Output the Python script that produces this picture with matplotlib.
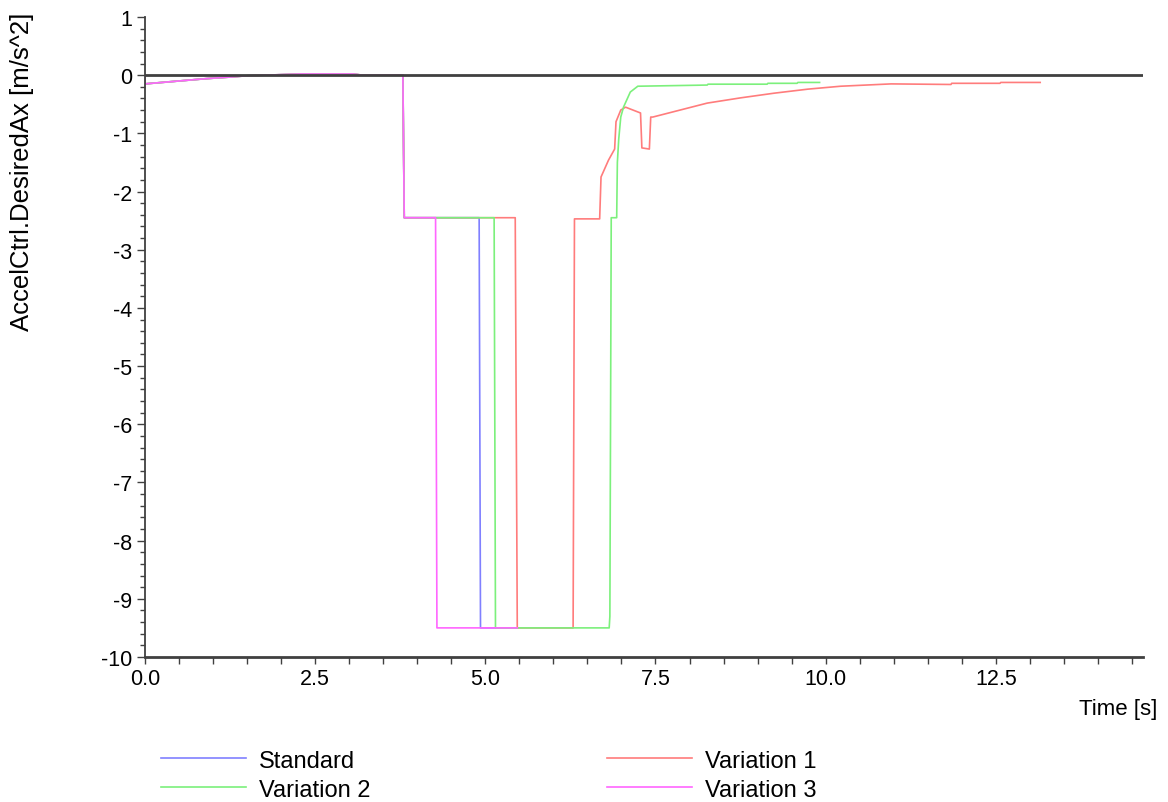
import matplotlib
matplotlib.use("Agg")
from matplotlib import pyplot as plt
from matplotlib.ticker import MultipleLocator, FormatStrFormatter

plt.rcParams['font.family'] = ['Liberation Sans', 'DejaVu Sans']
plt.rcParams['axes.unicode_minus'] = False

# shared start of every run (all hidden under Variation 3 up to ~3.8 s)
start_t = [0.0, 0.0, 0.3, 0.6, 0.9, 1.28, 1.5, 2.3, 3.05, 3.2, 3.79, 3.81]
start_y = [0.0, -0.15, -0.12, -0.09, -0.06, -0.03, -0.01, 0.02, 0.02, 0.0, 0.0, -2.45]

# Standard
std_t = start_t + [4.91, 4.93, 5.47]
std_y = start_y + [-2.45, -9.5, -9.5]

# Variation 1
v1_t = start_t + [5.44, 5.47, 6.29, 6.31, 6.68, 6.70, 6.81, 6.90, 6.92, 6.99, 7.06,
                  7.28, 7.30, 7.41, 7.43, 7.46, 7.76, 8.26, 8.75, 9.24, 9.74, 10.22,
                  10.96, 11.84, 11.85, 12.56, 12.57, 13.15]
v1_y = start_y + [-2.45, -9.5, -9.5, -2.47, -2.47, -1.75, -1.46, -1.27, -0.8, -0.6, -0.55,
                  -0.65, -1.25, -1.27, -0.72, -0.72, -0.63, -0.48, -0.39, -0.31, -0.24, -0.19,
                  -0.15, -0.16, -0.14, -0.14, -0.125, -0.125]

# Variation 2
v2_t = start_t + [5.13, 5.15, 6.82, 6.83, 6.85, 6.93, 6.94, 6.96, 6.99, 7.03, 7.13,
                  7.24, 8.26, 8.27, 9.14, 9.15, 9.58, 9.59, 9.91]
v2_y = start_y + [-2.45, -9.5, -9.5, -9.3, -2.45, -2.45, -1.5, -1.1, -0.72, -0.55, -0.29,
                  -0.19, -0.17, -0.155, -0.155, -0.14, -0.14, -0.125, -0.125]

# Variation 3
v3_t = start_t + [4.27, 4.29, 5.47]
v3_y = start_y + [-2.45, -9.5, -9.5]

series_names = ["Standard", "Variation 1", "Variation 2", "Variation 3"]
series_colors = ["#8080ff", "#ff7c7c", "#7cf07c", "#ff66ff"]

fig = plt.figure(figsize=(11.68, 8.03), dpi=100)
ax = fig.add_axes([0.124, 0.1806, 0.8546, 0.797])

handles = []
for t, y, name, c in zip([std_t, v1_t, v2_t, v3_t], [std_y, v1_y, v2_y, v3_y],
                         series_names, series_colors):
    h, = ax.plot(t, y, color=c, lw=1.2, label=name)
    handles.append(h)

ax.axhline(0, color="#404040", lw=2, zorder=5)

ax.set_xlim(0, 14.66)
ax.set_ylim(-10, 1)
ax.xaxis.set_major_locator(MultipleLocator(2.5))
ax.xaxis.set_minor_locator(MultipleLocator(0.5))
ax.xaxis.set_major_formatter(FormatStrFormatter("%.1f"))
ax.yaxis.set_major_locator(MultipleLocator(1))
ax.yaxis.set_minor_locator(MultipleLocator(0.2))

for s in ["top", "right"]:
    ax.spines[s].set_visible(False)
ax.spines["bottom"].set_linewidth(2)
ax.spines["bottom"].set_color("#404040")
ax.spines["left"].set_linewidth(1.3)
ax.spines["left"].set_color("#404040")

ax.tick_params(axis="x", which="both", direction="out", length=5, width=1,
               color="#404040", labelsize=15.5, pad=3)
ax.tick_params(axis="y", which="major", direction="out", length=6, width=1,
               color="#404040", labelsize=15.5, pad=3)
ax.tick_params(axis="y", which="minor", direction="out", length=3.5, width=1,
               color="#404040")

fig.text(22 / 1168, 1 - 172 / 803, "AccelCtrl.DesiredAx [m/s^2]", rotation=90,
         ha="center", va="center", fontsize=18.5)
fig.text(1157 / 1168, 1 - 710 / 803, "Time [s]", ha="right", va="center", fontsize=16)

# legend fills column-wise: put Standard / Variation 1 on the first row
order = [0, 2, 1, 3]
fig.legend([handles[i] for i in order], [series_names[i] for i in order],
           loc="upper left", bbox_to_anchor=(0.1300, 0.077),
           ncol=2, frameon=False, fontsize=17, handlelength=3.6, handletextpad=0.55,
           columnspacing=10.0, labelspacing=0.3, borderaxespad=0)

fig.savefig("out.png", dpi=100)
